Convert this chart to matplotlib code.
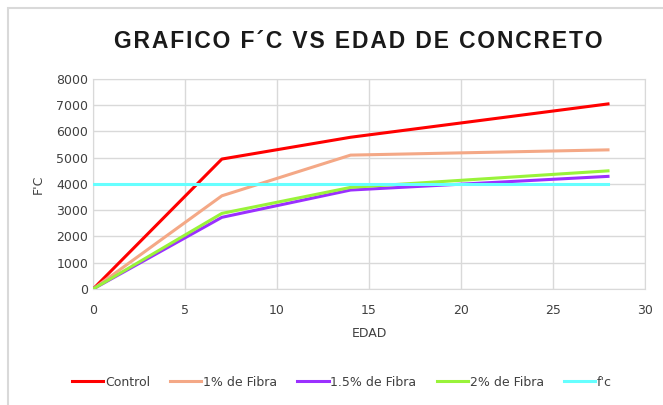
import matplotlib
matplotlib.use('Agg')
import matplotlib.pyplot as plt
from matplotlib.patches import Rectangle

edad = [0, 7, 14, 28]
control = [0, 4950, 5780, 7050]
fibra_1 = [0, 3550, 5100, 5300]
fibra_15 = [0, 2730, 3770, 4290]
fibra_2 = [0, 2880, 3870, 4500]
fc_edad = [0, 28]
fc = [4000, 4000]

titulo = 'GRAFICO F\u00b4C VS EDAD DE CONCRETO'

fig = plt.figure(figsize=(6.63, 4.05), dpi=100)
fig.patches.append(Rectangle((8 / 663, -0.01), 1.0, 1 - 8 / 405 + 0.01, transform=fig.transFigure,
                             fill=False, edgecolor='#d9d9d9', linewidth=1.5))
ax = fig.add_axes([0.1405, 0.2864, 0.832, 0.5186])

ax.plot(edad, control, color='#FF0000', lw=2.2, label='Control', zorder=3)
ax.plot(edad, fibra_1, color='#F4A886', lw=2.2, label='1% de Fibra', zorder=3)
ax.plot(edad, fibra_15, color='#9B30FF', lw=2.2, label='1.5% de Fibra', zorder=3)
ax.plot(edad, fibra_2, color='#99F33A', lw=2.2, label='2% de Fibra', zorder=3)
ax.plot(fc_edad, fc, color='#66FFFF', lw=2.2, label="f'c", zorder=4)

ax.set_xlim(0, 30)
ax.set_ylim(0, 8000)
ax.set_xticks(range(0, 31, 5))
ax.set_yticks(range(0, 8001, 1000))
ax.grid(True, color='#d9d9d9', lw=1)
ax.set_axisbelow(True)
for s in ax.spines.values():
    s.set_color('#d9d9d9')
ax.tick_params(length=0, labelsize=9, colors='#404040')
ax.tick_params(axis='x', pad=11)
ax.tick_params(axis='y', pad=3.5)

ax.set_xlabel('EDAD', fontsize=9, color='#404040', labelpad=7)
ax.set_ylabel("F'C", fontsize=9, color='#404040', labelpad=8)

# letter spaced title
fig.text(0.541, 0.897, '\u200a'.join(titulo), ha='center', va='center',
         fontsize=16.5, fontweight='bold', color='#1a1a1a',
         family=['Liberation Sans', 'DejaVu Sans'])

ax.legend(loc='center', bbox_to_anchor=(0.451, -0.444), ncol=5, frameon=False,
          fontsize=9, handlelength=2.5, handletextpad=0.15, columnspacing=1.6,
          labelcolor='#404040')

plt.savefig('out.png', dpi=100)
